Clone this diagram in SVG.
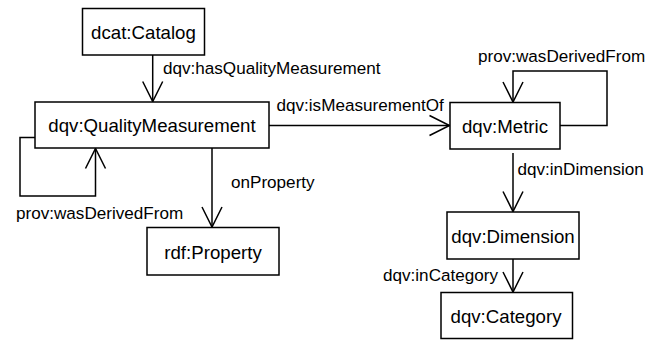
<svg xmlns="http://www.w3.org/2000/svg" width="660" height="341" viewBox="0 0 660 341">
<style>
.box{fill:#fff;stroke:#000;stroke-width:1.5}
.nt{font-family:"Liberation Sans",Arial,sans-serif;font-size:18.67px;fill:#000;text-anchor:middle}
.lt{font-family:"Liberation Sans",Arial,sans-serif;font-size:17.1px;fill:#000}
.c{fill:none;stroke:#000;stroke-width:1.5;marker-end:url(#v)}
</style>
<defs>
<marker id="v" markerUnits="userSpaceOnUse" viewBox="-2 -2 24 24" markerWidth="24" markerHeight="24" refX="20" refY="10" orient="auto">
<path d="M0,0 L20,10 L0,20" fill="none" stroke="#000" stroke-width="1.5"/>
</marker>
</defs>
<rect width="660" height="341" fill="#fff"/>
<g id="connectors">
<path class="c" d="M152.7,55 V101.5"/>
<path class="c" d="M269,125.5 H449.5"/>
<path class="c" d="M560,125.5 H607 V71 H513 V102"/>
<path class="c" d="M513,153 V211.5"/>
<path class="c" d="M513,259 V292"/>
<path class="c" d="M35,137.5 H20 V196 H95.5 V148.5"/>
<path class="c" d="M212,148 V227"/>
<text class="lt" x="163" y="74">dqv:hasQualityMeasurement</text>
<text class="lt" x="276.5" y="110.5">dqv:isMeasurementOf</text>
<text class="lt" x="478" y="62">prov:wasDerivedFrom</text>
<text class="lt" x="517.5" y="175">dqv:inDimension</text>
<text class="lt" x="498" y="281" text-anchor="end">dqv:inCategory</text>
<text class="lt" x="16" y="219">prov:wasDerivedFrom</text>
<text class="lt" x="231" y="188">onProperty</text>
</g>
<g id="catalog"><rect class="box" x="82.5" y="8.5" width="122" height="46.5"/><text class="nt" x="143.5" y="38.5">dcat:Catalog</text></g>
<g id="qualityMeasurement"><rect class="box" x="35" y="102" width="234" height="46"/><text class="nt" x="152" y="131.5">dqv:QualityMeasurement</text></g>
<g id="metric"><rect class="box" x="450" y="102.5" width="110" height="46.5"/><text class="nt" x="505" y="132.5">dqv:Metric</text></g>
<g id="property"><rect class="box" x="147" y="227.5" width="132" height="47.5"/><text class="nt" x="213" y="258.5">rdf:Property</text></g>
<g id="dimension"><rect class="box" x="447" y="212" width="132" height="47"/><text class="nt" x="513" y="242.5">dqv:Dimension</text></g>
<g id="category"><rect class="box" x="441" y="292.5" width="131.5" height="46"/><text class="nt" x="506" y="322.5">dqv:Category</text></g>
</svg>
